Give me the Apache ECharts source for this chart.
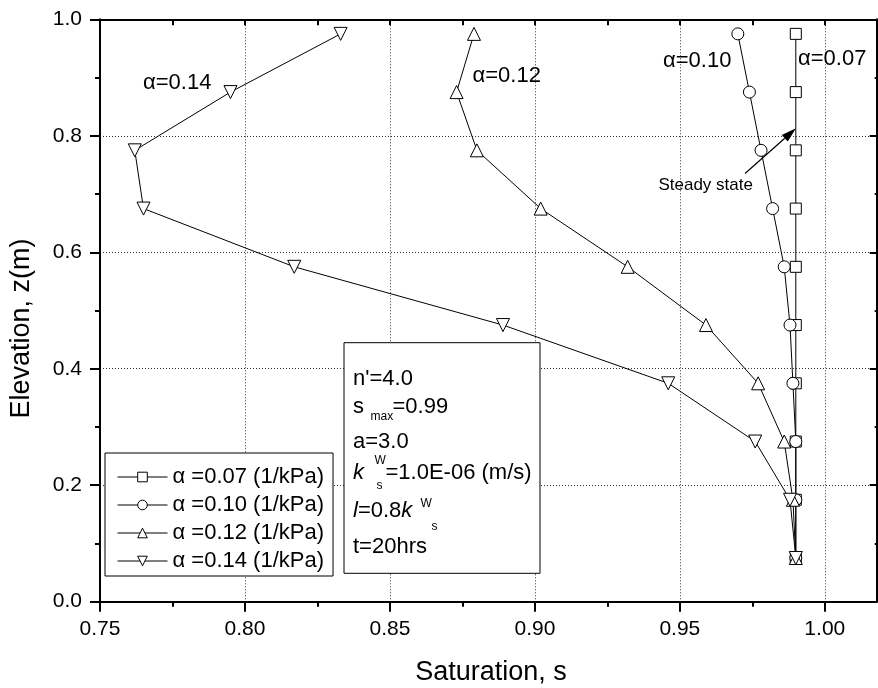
<!DOCTYPE html>
<html>
<head>
<meta charset="utf-8">
<script src="https://cdn.jsdelivr.net/npm/echarts@6/dist/echarts.min.js"></script>
<style>
  html, body { margin: 0; padding: 0; background: #fff; }
  #chart { width: 878px; height: 688px; }
</style>
</head>
<body>
<div id="chart"></div>
<script>
// Elevation of each computed node (m)
const elevation = [0.975, 0.875, 0.775, 0.675, 0.575, 0.475, 0.375, 0.275, 0.175, 0.075];

// Degree of saturation at each node, one list per alpha value
const satAlpha007 = [0.990, 0.990, 0.990, 0.990, 0.990, 0.990, 0.990, 0.990, 0.990, 0.990];
const satAlpha010 = [0.970, 0.974, 0.978, 0.982, 0.986, 0.988, 0.989, 0.990, 0.990, 0.990];
const satAlpha012 = [0.879, 0.873, 0.880, 0.902, 0.932, 0.959, 0.977, 0.986, 0.989, 0.990];
const satAlpha014 = [0.833, 0.795, 0.762, 0.765, 0.817, 0.889, 0.946, 0.976, 0.988, 0.990];

const seriesNames = [
  'α =0.07 (1/kPa)',
  'α =0.10 (1/kPa)',
  'α =0.12 (1/kPa)',
  'α =0.14 (1/kPa)'
];

// Axis ticks
const xMajorTicks = [0.75, 0.80, 0.85, 0.90, 0.95, 1.00];
const xMinorTicks = [0.775, 0.825, 0.875, 0.925, 0.975];
const yTicks = [0.0, 0.2, 0.4, 0.6, 0.8, 1.0];

const FONT = "'Liberation Sans', Arial, sans-serif";
const chart = echarts.init(document.getElementById('chart'), null, { renderer: 'canvas' });

function pairs(xs) { return xs.map((s, i) => [s, elevation[i]]); }

const markerStyle = { color: '#fff', borderColor: '#000', borderWidth: 1 };
function lineSeries(name, values, symbol, size, rotate) {
  return {
    name: name,
    type: 'line',
    xAxisIndex: 0,
    yAxisIndex: 0,
    data: pairs(values),
    symbol: symbol,
    symbolSize: size,
    symbolRotate: rotate || 0,
    showAllSymbol: true,
    lineStyle: { color: '#000', width: 1 },
    itemStyle: markerStyle,
    emphasis: { disabled: true },
    z: 3
  };
}

function text(x, y, str, size, extra) {
  return {
    type: 'text',
    x: x, y: y, z: 10,
    style: Object.assign({
      text: str,
      fontSize: size,
      fontFamily: FONT,
      fill: '#000',
      align: 'left',
      verticalAlign: 'middle'
    }, extra || {})
  };
}

// Arrow pointing at the steady-state profile
const arrowFrom = [745, 173.5];
const arrowTo = [796, 128.3];
const adx = arrowTo[0] - arrowFrom[0], ady = arrowTo[1] - arrowFrom[1];
const alen = Math.sqrt(adx * adx + ady * ady);
const ux = adx / alen, uy = ady / alen;
const headLen = 15, headHalf = 4.5;
const baseX = arrowTo[0] - ux * headLen, baseY = arrowTo[1] - uy * headLen;

const graphics = [
  // parameter box
  {
    type: 'rect', z: 1,
    shape: { x: 344, y: 342.7, width: 196, height: 230.6 },
    style: { fill: '#fff', stroke: '#000', lineWidth: 1 }
  },
  text(353, 379, "n'=4.0", 22),
  text(353, 406.7, 's', 22),
  text(370.5, 417, 'max', 12),
  text(392.5, 406.7, '=0.99', 22),
  text(353, 441.7, 'a=3.0', 22),
  text(353, 473, 'k', 22, { fontStyle: 'italic' }),
  text(374.5, 461, 'W', 12),
  text(376.5, 486, 's', 12),
  text(385.5, 473, '=1.0E-06 (m/s)', 22),
  text(353, 510.7, '{i|l}=0.8{i|k}', 22, {
    rich: { i: { fontStyle: 'italic', fontSize: 22, fontFamily: FONT, fill: '#000' } }
  }),
  text(420.5, 504, 'W', 12),
  text(431.5, 526.7, 's', 12),
  text(353, 547, 't=20hrs', 22),

  // curve labels
  text(143, 83.3, 'α=0.14', 22),
  text(472.5, 75.5, 'α=0.12', 22),
  text(663, 60.8, 'α=0.10', 22),
  text(798, 59, 'α=0.07', 22),

  // steady-state annotation
  text(705.7, 185, 'Steady state', 17, { align: 'center' }),
  {
    type: 'line', z: 10,
    shape: { x1: arrowFrom[0], y1: arrowFrom[1], x2: baseX, y2: baseY },
    style: { stroke: '#000', lineWidth: 1.2 }
  },
  {
    type: 'polygon', z: 10,
    shape: {
      points: [
        arrowTo,
        [baseX + uy * headHalf, baseY - ux * headHalf],
        [baseX - uy * headHalf, baseY + ux * headHalf]
      ]
    },
    style: { fill: '#000' }
  },

  // axis titles
  text(491, 673, 'Saturation, s', 27, { align: 'center' }),
  {
    type: 'text', z: 10,
    x: 21.5, y: 328.5, rotation: Math.PI / 2,
    style: {
      text: 'Elevation, z(m)', fontSize: 27, fontFamily: FONT, fill: '#000',
      align: 'center', verticalAlign: 'middle'
    }
  }
];

const axisLineStyle = { color: '#000', width: 2 };
const gridLineStyle = { color: '#333', width: 1, type: [1, 2] };
const X_MIN = 0.75, X_MAX = 1.0179;

const option = {
  animation: false,
  backgroundColor: '#fff',
  textStyle: { fontFamily: FONT },
  grid: { left: 100, top: 19.3, right: 1.3, bottom: 86.3, containLabel: false },
  xAxis: [
    {
      type: 'value', position: 'bottom', min: X_MIN, max: X_MAX, interval: 0.05,
      axisLine: { show: true, onZero: false, lineStyle: axisLineStyle },
      axisTick: { show: true, inside: false, length: 10, lineStyle: { color: '#000', width: 2 }, customValues: xMajorTicks },
      axisLabel: {
        show: true, customValues: xMajorTicks, margin: 17, fontSize: 21, color: '#000', fontFamily: FONT,
        formatter: v => Number(v).toFixed(2)
      },
      splitLine: { show: true, lineStyle: gridLineStyle }
    },
    {
      type: 'value', position: 'bottom', min: X_MIN, max: X_MAX, interval: 0.05,
      axisLine: { show: false },
      axisTick: { show: true, inside: false, length: 5, lineStyle: { color: '#000', width: 2 }, customValues: xMinorTicks },
      axisLabel: { show: false },
      splitLine: { show: false }
    },
    {
      type: 'value', position: 'top', min: X_MIN, max: X_MAX, interval: 0.05,
      axisLine: { show: true, onZero: false, lineStyle: axisLineStyle },
      axisTick: { show: true, inside: true, length: 6, lineStyle: { color: '#000', width: 2 },
        customValues: xMajorTicks.concat(xMinorTicks) },
      axisLabel: { show: false },
      splitLine: { show: false }
    }
  ],
  yAxis: [
    {
      type: 'value', position: 'left', min: 0, max: 1, interval: 0.2,
      axisLine: { show: true, onZero: false, lineStyle: axisLineStyle },
      axisTick: { show: true, inside: false, length: 10, lineStyle: { color: '#000', width: 2 } },
      minorTick: { show: true, splitNumber: 2, length: 5, lineStyle: { color: '#000', width: 2 } },
      axisLabel: {
        show: true, customValues: yTicks, margin: 18, fontSize: 21, color: '#000', fontFamily: FONT,
        formatter: v => Number(v).toFixed(1)
      },
      splitLine: { show: true, lineStyle: gridLineStyle }
    },
    {
      type: 'value', position: 'right', min: 0, max: 1, interval: 0.2,
      axisLine: { show: true, onZero: false, lineStyle: axisLineStyle },
      axisTick: { show: true, inside: true, length: 7, lineStyle: { color: '#000', width: 2 } },
      minorTick: { show: true, splitNumber: 2, length: 2, lineStyle: { color: '#000', width: 2 } },
      axisLabel: { show: false },
      splitLine: { show: false }
    }
  ],
  legend: {
    left: 105, top: 453,
    orient: 'vertical',
    itemWidth: 50, itemHeight: 12, itemGap: 6,
    padding: [13, 9, 4, 12],
    borderColor: '#000', borderWidth: 1, backgroundColor: '#fff',
    lineStyle: { width: 1, color: '#000' },
    itemStyle: { color: '#fff', borderColor: '#000', borderWidth: 1 },
    textStyle: { fontSize: 22, fontFamily: FONT, color: '#000' },
    data: seriesNames,
    selectedMode: false
  },
  series: [
    lineSeries(seriesNames[0], satAlpha007, 'rect', 11),
    lineSeries(seriesNames[1], satAlpha010, 'circle', 12),
    lineSeries(seriesNames[2], satAlpha012, 'triangle', 13),
    lineSeries(seriesNames[3], satAlpha014, 'triangle', 13, 180)
  ],
  graphic: graphics
};

chart.setOption(option);
</script>
</body>
</html>
